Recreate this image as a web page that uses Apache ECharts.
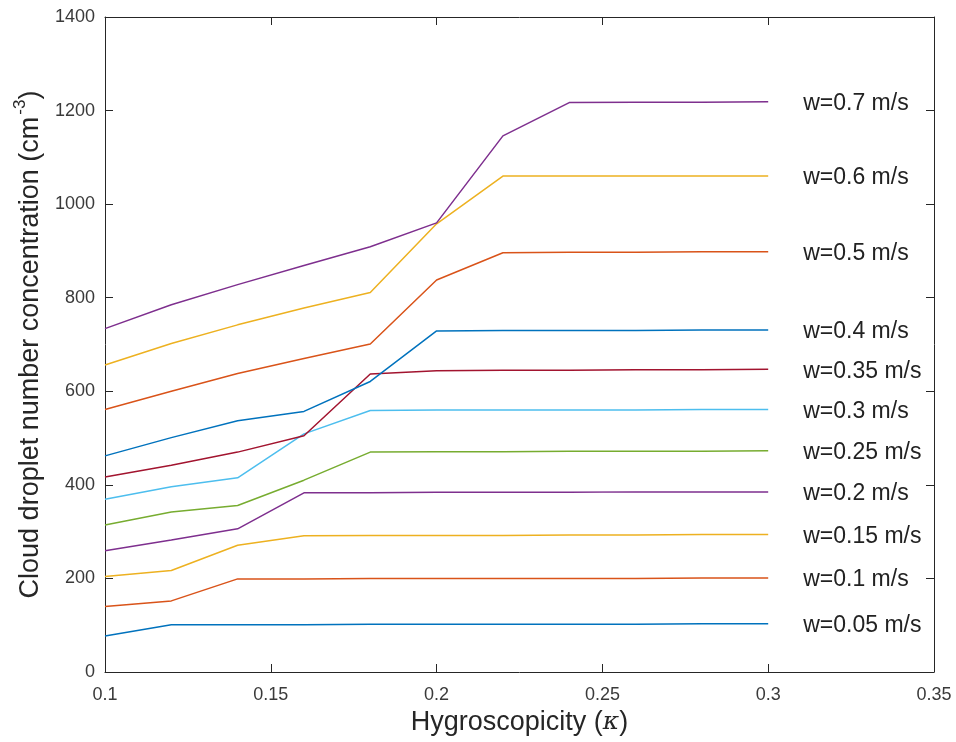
<!DOCTYPE html>
<html>
<head>
<meta charset="utf-8">
<title>Cloud droplet number concentration vs hygroscopicity</title>
<script src="https://cdn.jsdelivr.net/npm/echarts@6/dist/echarts.min.js"></script>
<style>
  html, body { margin: 0; padding: 0; background: #fff; }
  #chart { width: 956px; height: 742px; }
</style>
</head>
<body>
<div id="chart"></div>
<script>
// Hygroscopicity values (kappa) shared by every curve
const kappa = [0.1, 0.12, 0.14, 0.16, 0.18, 0.2, 0.22, 0.24, 0.26, 0.28, 0.3];

// Updraft velocity labels, lowest to highest
const updrafts = ['w=0.05 m/s', 'w=0.1 m/s', 'w=0.15 m/s', 'w=0.2 m/s', 'w=0.25 m/s',
  'w=0.3 m/s', 'w=0.35 m/s', 'w=0.4 m/s', 'w=0.5 m/s', 'w=0.6 m/s', 'w=0.7 m/s'];

// Cloud droplet number concentration (cm^-3) for each updraft
const nd_w005 = [77, 101, 101, 101, 102, 102, 102, 102, 102, 103, 103];
const nd_w010 = [140, 152, 199, 199, 200, 200, 200, 200, 200, 201, 201];
const nd_w015 = [204, 217, 271, 291, 292, 292, 292, 293, 293, 294, 294];
const nd_w020 = [259, 282, 306, 383, 383, 384, 384, 384, 385, 385, 385];
const nd_w025 = [314, 342, 356, 410, 470, 471, 471, 472, 472, 472, 473];
const nd_w030 = [369, 396, 415, 509, 559, 560, 560, 560, 560, 561, 561];
const nd_w035 = [417, 442, 470, 505, 637, 644, 645, 645, 646, 646, 647];
const nd_w040 = [462, 501, 537, 557, 621, 729, 730, 730, 730, 731, 731];
const nd_w050 = [561, 600, 638, 670, 701, 838, 896, 897, 897, 898, 898];
const nd_w060 = [656, 702, 742, 778, 811, 958, 1060, 1060, 1060, 1060, 1060];
const nd_w070 = [734, 785, 828, 869, 909, 960, 1146, 1217, 1218, 1218, 1219];

const curves = [nd_w005, nd_w010, nd_w015, nd_w020, nd_w025, nd_w030,
  nd_w035, nd_w040, nd_w050, nd_w060, nd_w070];

// Axis ticks
const xTicks = { min: 0.1, max: 0.35, step: 0.05 };
const yTicks = { min: 0, max: 1400, step: 200 };

// MATLAB-style default line colour order
const palette = ['#0072BD', '#D95319', '#EDB120', '#7E2F8E', '#77AC30', '#4DBEEE', '#A2142F'];

const axisColor = '#262626';
const font = 'Liberation Sans, Arial, Helvetica, sans-serif';

const series = curves.map((vals, i) => ({
  name: updrafts[i],
  type: 'line',
  data: kappa.map((k, j) => [k, vals[j]]),
  showSymbol: false,
  symbol: 'none',
  lineStyle: { width: 1.5, color: palette[i % palette.length] },
  itemStyle: { color: palette[i % palette.length] },
  emphasis: { disabled: true },
  animation: false,
  endLabel: {
    show: true,
    formatter: updrafts[i],
    distance: 35,
    offset: [0, 2],
    color: '#222',
    fontSize: 23,
    fontFamily: font
  }
}));

const fmtX = v => String(+v.toFixed(2));
const fmtY = v => String(Math.round(v));

const frameAxis = {
  splitLine: { show: false },
  axisLine: { show: true, onZero: false, lineStyle: { color: axisColor, width: 1 } },
  axisTick: { show: true, inside: true, length: 8, lineStyle: { color: axisColor } }
};

const chart = echarts.init(document.getElementById('chart'), null, { renderer: 'canvas' });
chart.setOption({
  backgroundColor: '#fff',
  animation: false,
  grid: { left: 105, right: 22, top: 17, bottom: 70, containLabel: false },
  xAxis: [Object.assign({
    type: 'value',
    min: xTicks.min, max: xTicks.max, interval: xTicks.step,
    position: 'bottom',
    axisLabel: { formatter: fmtX, color: '#3a3a3a', fontSize: 18, fontFamily: font, margin: 14 },
    name: '{t|Hygroscopicity (}{k|κ}{t|)}',
    nameLocation: 'middle',
    nameGap: 27,
    nameTextStyle: {
      rich: {
        t: { fontSize: 27, fontFamily: font, color: '#262626' },
        k: { fontSize: 25, fontFamily: 'DejaVu Serif, serif', fontStyle: 'italic', color: '#262626' }
      }
    }
  }, frameAxis), Object.assign({
    type: 'value',
    min: xTicks.min, max: xTicks.max, interval: xTicks.step,
    position: 'top',
    axisLabel: { show: false }
  }, frameAxis)],
  yAxis: [Object.assign({
    type: 'value',
    min: yTicks.min, max: yTicks.max, interval: yTicks.step,
    position: 'left',
    axisLabel: { formatter: fmtY, color: '#3a3a3a', fontSize: 18, fontFamily: font, margin: 10 },
    name: '{t|Cloud droplet number concentration (cm}{s|-3}{t|)}',
    nameLocation: 'middle',
    nameGap: 57,
    nameRotate: 90,
    nameTextStyle: {
      rich: {
        t: { fontSize: 27, fontFamily: font, color: '#262626', lineHeight: 32, verticalAlign: 'bottom' },
        s: { fontSize: 17, fontFamily: font, color: '#262626', lineHeight: 32, verticalAlign: 'top', padding: [0, 0, 0, 2] }
      }
    }
  }, frameAxis), Object.assign({
    type: 'value',
    min: yTicks.min, max: yTicks.max, interval: yTicks.step,
    position: 'right',
    axisLabel: { show: false }
  }, frameAxis)],
  series: series
});
</script>
</body>
</html>
